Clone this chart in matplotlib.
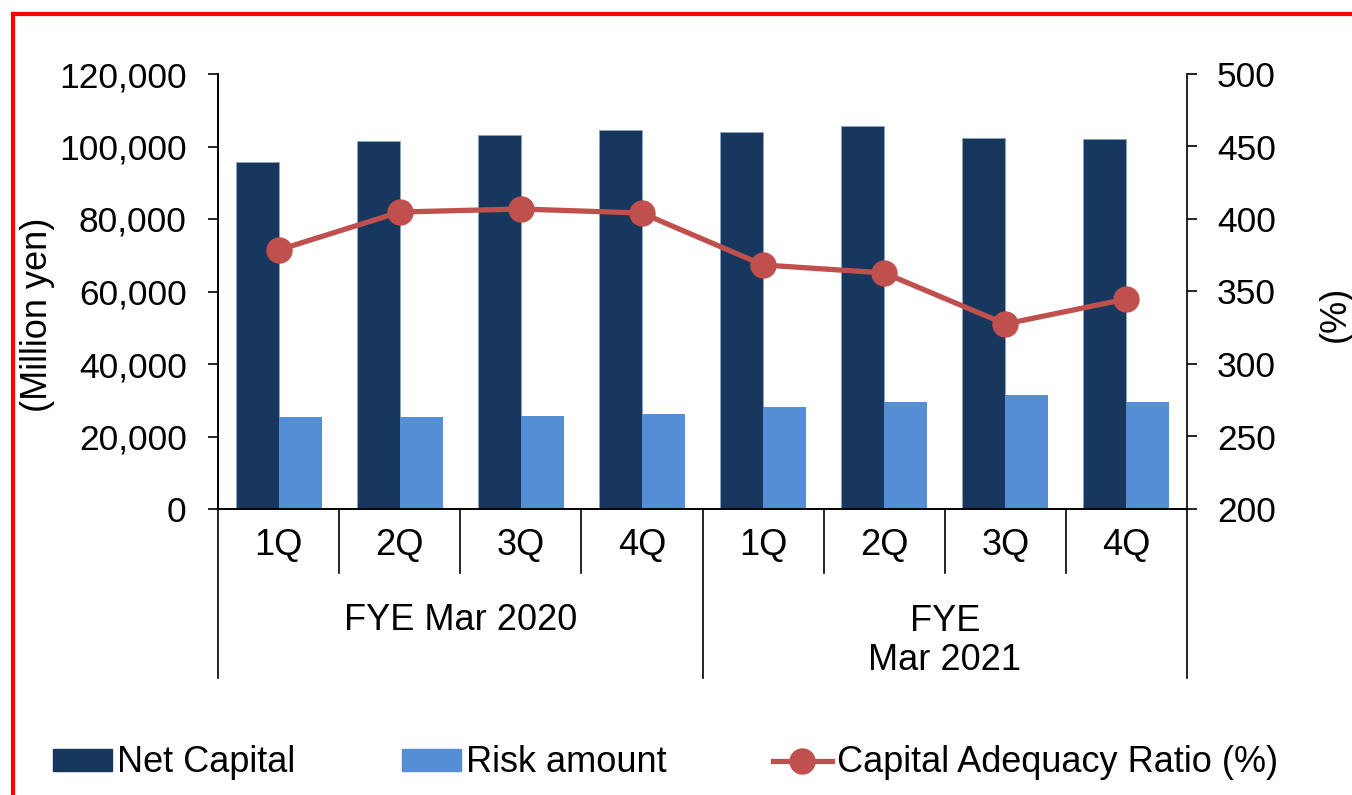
import matplotlib
matplotlib.use('Agg')
import matplotlib.pyplot as plt
import matplotlib.transforms as mtransforms
from matplotlib.lines import Line2D
from matplotlib.ticker import FuncFormatter

plt.rcParams['font.family'] = ['Liberation Sans', 'DejaVu Sans']

quarters = ['1Q', '2Q', '3Q', '4Q', '1Q', '2Q', '3Q', '4Q']
groups = ['FYE Mar 2020', 'FYE\nMar 2021']
net_capital = [95700, 101500, 103200, 104600, 104000, 105700, 102300, 102100]
risk_amount = [25400, 25400, 25700, 26200, 28100, 29500, 31400, 29500]
ratio = [378.6, 404.8, 406.9, 404.1, 368.3, 362.8, 327.6, 344.8]

c_net = '#17375E'
c_risk = '#558ED5'
c_ratio = '#C0504D'

fig = plt.figure(figsize=(13.52, 7.95), dpi=100)
ax = fig.add_axes([218/1352, 1-509/795, (1187-218)/1352, 435/795])
ax2 = ax.twinx()

x = list(range(len(quarters)))
w = 0.355
ax.bar([i - w for i in x], net_capital, width=w, align='edge', color=c_net,
       edgecolor='#8ea3bd', linewidth=0.6, zorder=2)
ax.bar(x, risk_amount, width=w, align='edge', color=c_risk, zorder=2)
ax2.plot(x, ratio, color=c_ratio, lw=3.8, marker='o', ms=18, zorder=3)

ax.set_xlim(-0.5, len(x) - 0.5)
ax.set_ylim(0, 120000)
ax.set_yticks(range(0, 120001, 20000))
ax.yaxis.set_major_formatter(FuncFormatter(lambda v, p: f'{int(v):,}'))
ax2.set_ylim(200, 500)
ax2.set_yticks(range(200, 501, 50))

for a in (ax, ax2):
    a.spines['top'].set_visible(False)
    for s in a.spines.values():
        s.set_linewidth(1.2)
ax.spines['right'].set_visible(False)
ax.tick_params(axis='y', direction='out', length=7.5, width=1.2, pad=15, labelsize=25.5)
ax2.tick_params(axis='y', direction='out', length=7.5, width=1.2, pad=14, labelsize=25.5)

ax.set_xticks(x)
ax.set_xticklabels(quarters, fontsize=26)
ax.tick_params(axis='x', length=0, pad=14)

# category separators below the axis
trans = mtransforms.blended_transform_factory(ax.transData, ax.transAxes)
for b in range(len(x) + 1):
    edge = b - 0.5
    depth = -0.389 if b % 4 == 0 else -0.147
    ax.add_line(Line2D([edge, edge], [0, depth], transform=trans, color='black',
                       lw=1.2, clip_on=False))

ax.text(1.5, -0.256, groups[0], transform=trans, ha='center', va='center', fontsize=26)
ax.text(5.5, -0.304, groups[1], transform=trans, ha='center', va='center', fontsize=26,
        linespacing=1.15)

fig.text(38/1352, 1-315/795, '(Million yen)', rotation=90, ha='center', va='center', fontsize=26)
fig.text(1335/1352, 1-314/795, '(%)', rotation=90, ha='center', va='center', fontsize=26)

handles = [plt.Rectangle((0, 0), 1, 1, color=c_net),
           plt.Rectangle((0, 0), 1, 1, color=c_risk),
           Line2D([], [], color=c_ratio, lw=3.8, marker='o', ms=18)]
fig.legend(handles, ['Net Capital', 'Risk amount', 'Capital Adequacy Ratio (%)'],
           loc='center left', bbox_to_anchor=(53/1352, 1-763/795), ncol=3,
           frameon=False, fontsize=26, handlelength=1.64, handleheight=0.58,
           handletextpad=0.13, columnspacing=2.95, borderpad=0, borderaxespad=0)

# red frame
fig.add_artist(Line2D([13/1352, 13/1352], [0, 1-14/795], transform=fig.transFigure,
                      color='#FF0000', lw=3))
fig.add_artist(Line2D([13/1352, 1], [1-14/795, 1-14/795], transform=fig.transFigure,
                      color='#FF0000', lw=3))

fig.savefig('out.png', dpi=100)
